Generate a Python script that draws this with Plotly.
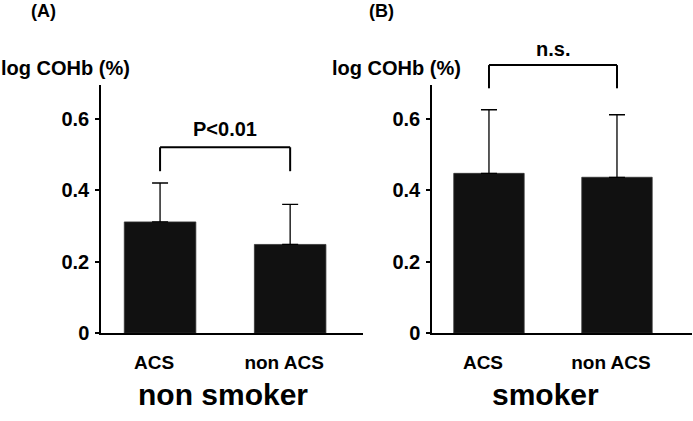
import plotly.graph_objects as go

# ---- data ----
categories = ["ACS", "non ACS"]
nonsmoker_mean = [0.311, 0.248]
nonsmoker_sd = [0.109, 0.112]
smoker_mean = [0.447, 0.436]
smoker_sd = [0.178, 0.175]
y_tickvals = [0, 0.2, 0.4, 0.6]
y_ticktext = ["0", "0.2", "0.4", "0.6"]
YMAX = 0.695

W, H = 693, 421
FONT = "Liberation Sans, Arial, sans-serif"
BAR = "#111111"

fig = go.Figure()

def add_bars(mean, sd, xa, ya):
    fig.add_trace(go.Bar(
        x=categories, y=mean, xaxis=xa, yaxis=ya, width=0.55,
        marker=dict(color=BAR, line=dict(color="#333333", width=0.8)),
        error_y=dict(type="data", symmetric=False, array=sd, arrayminus=[0] * len(sd),
                     color="black", thickness=1.3, width=8),
        showlegend=False, hoverinfo="skip"))

add_bars(nonsmoker_mean, nonsmoker_sd, "x", "y")
add_bars(smoker_mean, smoker_sd, "x2", "y2")

ydom = [1 - 342 / H, 1 - 87 / H]
common_x = dict(type="category", showline=True, linecolor="black", linewidth=1.5,
                ticks="", showgrid=False, zeroline=False, fixedrange=True,
                tickfont=dict(family=FONT, size=19, color="black", weight="bold"),
                ticklabelstandoff=11, ticklabelshift=-6)
common_y = dict(range=[0, YMAX], showline=True, linecolor="black", linewidth=1.5,
                ticks="outside", ticklen=4, tickwidth=1.5, tickcolor="black",
                tickvals=y_tickvals, ticktext=y_ticktext, showgrid=False, zeroline=False,
                tickfont=dict(family=FONT, size=20, color="black", weight="bold"),
                domain=ydom, ticklabelstandoff=2)

fig.update_layout(
    width=W, height=H, autosize=False,
    margin=dict(l=0, r=0, t=0, b=0, pad=0),
    paper_bgcolor="white", plot_bgcolor="white",
    bargap=0.3,
    xaxis=dict(common_x, domain=[101 / W, 363 / W], range=[-0.454, 1.56], anchor="y"),
    yaxis=dict(common_y, anchor="x"),
    xaxis2=dict(common_x, domain=[432 / W, 692 / W], range=[-0.445, 1.586], anchor="y2"),
    yaxis2=dict(common_y, anchor="x2"),
)

# significance brackets: (xaxis, yaxis-domain ref, top value, leg bottom value, label, label value)
brackets = [
    ("x", "y domain", 0.52, 0.453, "P<0.01", 0.57),
    ("x2", "y2 domain", 0.75, 0.685, "n.s.", 0.795),
]
for xr, yr, top, bot, label, ly in brackets:
    t, b = top / YMAX, bot / YMAX
    for x0, y0, x1, y1 in [(0, b, 0, t), (0, t, 1, t), (1, t, 1, b)]:
        fig.add_shape(type="line", xref=xr, yref=yr, x0=x0, x1=x1, y0=y0, y1=y1,
                      line=dict(color="black", width=2))
    fig.add_annotation(xref=xr, yref=yr, x=0.5, y=ly / YMAX, text=label, showarrow=False,
                       xanchor="center", yanchor="middle",
                       font=dict(family=FONT, size=20, color="black", weight="bold"))

def px_ann(text, x, y, size):
    fig.add_annotation(xref="paper", yref="paper", x=x / W, y=1 - y / H, text=text,
                       showarrow=False, xanchor="center", yanchor="middle",
                       font=dict(family=FONT, size=size, color="black", weight="bold"))

px_ann("(A)", 43, 11, 18)
px_ann("(B)", 382, 11, 18)
px_ann("log COHb (%)", 65, 70, 20)
px_ann("log COHb (%)", 396, 70, 20)
px_ann("non smoker", 223, 405, 30)
px_ann("smoker", 545, 405, 30)

fig.write_html("out.html", config={"displayModeBar": False},
               post_script="document.body.style.margin='0';document.body.style.overflow='hidden';")
